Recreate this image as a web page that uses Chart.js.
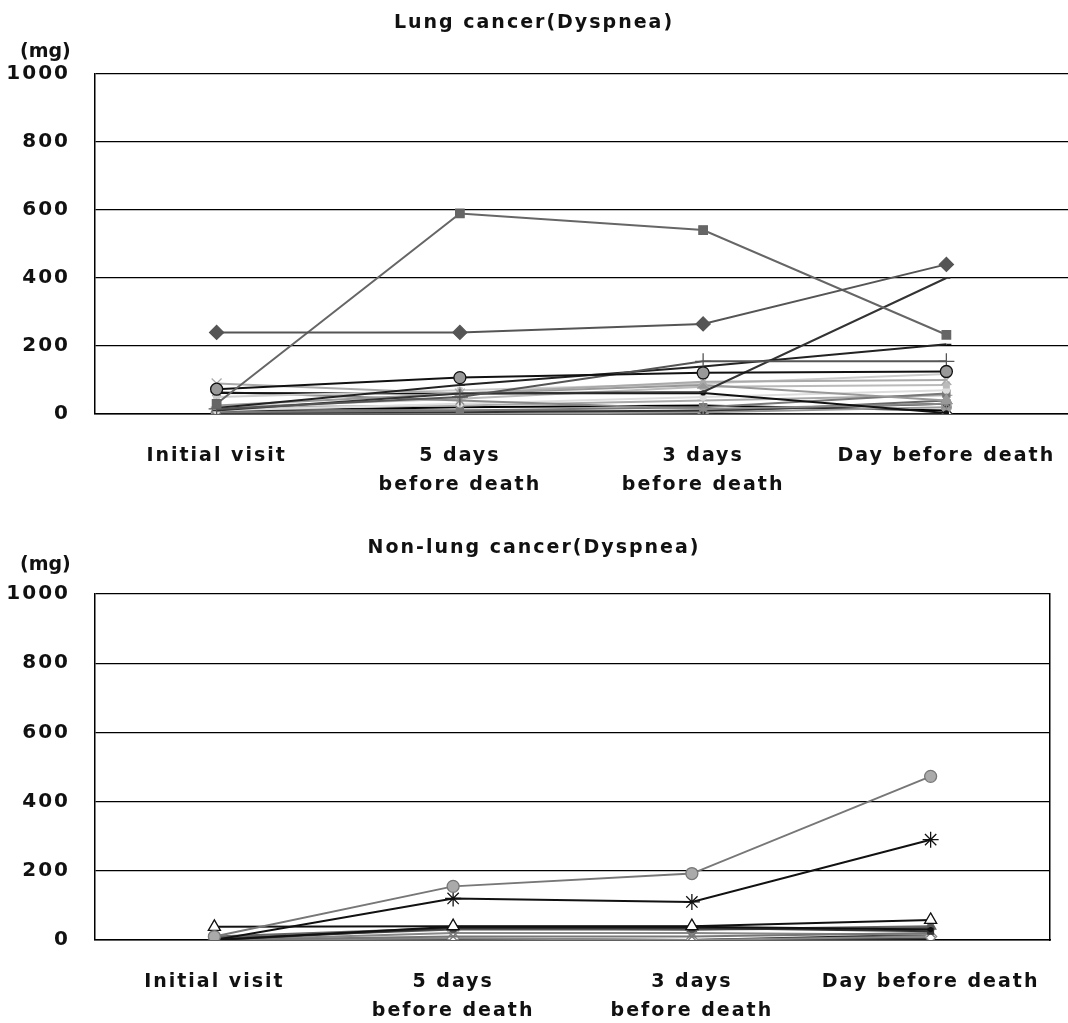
<!DOCTYPE html>
<html>
<head>
<meta charset="utf-8">
<script src="https://cdn.jsdelivr.net/npm/chart.js@4.4.0/dist/chart.umd.min.js"></script>
<style>
  body { margin: 0; background: #fff; }
  #wrap { position: relative; width: 1068px; height: 1023px; font-family: 'DejaVu Sans', sans-serif; color: #111; }
  .box { position: absolute; left: 0; width: 1068px; }
  .ttl { position: absolute; left: 0; width: 1068px; text-align: center; font-size: 19px; font-weight: bold; letter-spacing: 2px; }
  .mg { position: absolute; left: 20px; font-size: 19px; font-weight: bold; }
</style>
</head>
<body>
<div id="wrap">
  <div class="box" style="top:0;height:510px"><canvas id="myChart"></canvas></div>
  <div class="box" style="top:510px;height:513px"><canvas id="myChart2"></canvas></div>
  <div class="ttl" style="top:10px">Lung cancer(Dyspnea)</div>
  <div class="mg" style="top:39px">(mg)</div>
  <div class="ttl" style="top:535px">Non-lung cancer(Dyspnea)</div>
  <div class="mg" style="top:552px">(mg)</div>
</div>
<script>
const categories = ['Initial visit', ['5 days', 'before death'], ['3 days', 'before death'], 'Day before death'];
const yMin = 0;
const yMax = 1000;
const yStep = 200;

// lung cancer patients
const lungA = [240, 240, 265, 440];
const lungB = [30, 590, 541, 233];
const lungC = [73, 107, 121, 125];
const lungD = [15, 50, 155, 155];
const lungE = [18, 85, 140, 205];
const lungF = [10, 60, 65, 400];
const lungG = [90, 60, 95, 100];
const lungH = [25, 60, 85, 40];
const lungI = [50, 70, 90, 118];
const lungJ = [62, 60, 62, 3];
const lungK = [65, 40, 15, 30];
const lungL = [20, 45, 80, 85];
const lungM = [10, 30, 50, 70];
const lungN = [5, 10, 20, 60];
const lungO = [3, 5, 10, 30];
const lungP = [0, 0, 5, 20];
const lungQ = [0, 0, 0, 0];
const lungR = [15, 10, 5, 40];
const lungS = [20, 25, 40, 55];
const lungT = [8, 20, 25, 10];

// non-lung cancer patients
const nonA = [10, 155, 192, 473];
const nonB = [0, 120, 110, 290];
const nonC = [38, 40, 40, 58];
const nonD = [0, 38, 38, 30];
const nonE = [0, 35, 35, 25];
const nonF = [5, 30, 30, 35];
const nonG = [0, 10, 10, 20];
const nonH = [0, 5, 0, 10];
const nonI = [0, 20, 20, 15];
const nonJ = [0, 0, 0, 5];
const nonK = [10, 35, 30, 40];
const nonL = [0, 3, 0, 15];

function ds(data, line, style, fill, edge, r) {
    return {
        data: data,
        borderColor: line,
        backgroundColor: fill || line,
        pointBorderColor: edge || line,
        pointStyle: style,
        pointRadius: r || 5,
        pointBorderWidth: 1.3,
        borderWidth: 2,
        tension: 0
    }
}

const lungSets = [
    ds(lungA, '#555', 'rectRot', null, null, 7),
    ds(lungB, '#666', 'rect', null, null, 6),
    ds(lungC, '#111', 'circle', '#999', '#111', 6),
    ds(lungD, '#555', 'cross', null, null, 8),
    ds(lungE, '#222', 'dash', null, null, 5),
    ds(lungF, '#333', 'line', null, null, 4),
    ds(lungG, '#aaa', 'crossRot', null, null, 7),
    ds(lungH, '#999', 'triangle', null, null, 6),
    ds(lungI, '#ccc', 'circle', null, null, 3),
    ds(lungJ, '#111', 'circle', null, null, 2),
    ds(lungK, '#888', 'star', null, null, 6),
    ds(lungL, '#bbb', 'rect', null, null, 4),
    ds(lungM, '#ddd', 'circle', null, null, 3),
    ds(lungN, '#777', 'rect', null, null, 5),
    ds(lungO, '#333', 'circle', null, null, 3),
    ds(lungP, '#999', 'circle', null, null, 5),
    ds(lungQ, '#222', 'rectRot', '#fff', '#222', 6),
    ds(lungR, '#666', 'triangle', null, null, 6),
    ds(lungS, '#aaa', 'cross', null, null, 6),
    ds(lungT, '#000', 'circle', null, null, 2)
];

const nonSets = [
    ds(nonA, '#777', 'circle', '#aaa', '#777', 6),
    ds(nonB, '#111', 'star', null, null, 8),
    ds(nonC, '#111', 'triangle', '#fff', '#111', 7),
    ds(nonD, '#111', 'circle', null, null, 2),
    ds(nonE, '#333', 'rect', null, null, 4),
    ds(nonF, '#555', 'circle', null, null, 3),
    ds(nonG, '#777', 'crossRot', null, null, 6),
    ds(nonH, '#888', 'rectRot', '#fff', '#888', 6),
    ds(nonI, '#888', 'circle', null, null, 3),
    ds(nonJ, '#444', 'rect', null, null, 5),
    ds(nonK, '#666', 'triangle', null, null, 6),
    ds(nonL, '#222', 'circle', null, null, 2)
];

const spacing = {
    id: 'spacing',
    beforeDraw(chart) { chart.ctx.letterSpacing = '2px'; }
};

function opts(topPad, rightPad, xHeight, rightBorder) {
    const o = {
        responsive: true,
        maintainAspectRatio: false,
        animation: false,
        layout: { autoPadding: false, padding: { top: topPad, right: rightPad, left: 0, bottom: 0 } },
        plugins: { legend: { display: false }, tooltip: { enabled: false } },
        scales: {
            x: {
                offset: true,
                grid: { drawOnChartArea: false, drawTicks: false },
                border: { color: '#000', width: 1.5 },
                ticks: {
                    font: { family: 'DejaVu Sans', size: 19, weight: 'bold', lineHeight: 1.55 },
                    color: '#111',
                    maxRotation: 0,
                    autoSkip: false,
                    padding: 27
                },
                afterFit: s => { s.height = xHeight; s.paddingLeft = 0; s.paddingRight = 0; }
            },
            y: {
                min: yMin,
                max: yMax,
                grid: { color: '#000', lineWidth: 1.2, drawTicks: false },
                border: { color: '#000', width: 1.5 },
                ticks: {
                    stepSize: yStep,
                    font: { family: 'DejaVu Sans', size: 20, weight: 'bold' },
                    color: '#111',
                    padding: 25,
                    callback: v => String(v)
                },
                afterFit: s => { s.width = 95; }
            }
        }
    };
    if (rightBorder) {
        o.scales.y2 = {
            position: 'right',
            min: yMin,
            max: yMax,
            ticks: { display: false },
            grid: { drawOnChartArea: false, drawTicks: false },
            border: { color: '#000', width: 1.5 },
            afterFit: s => { s.width = 0; }
        };
    }
    return o;
}

new Chart(document.getElementById('myChart'), {
    type: 'line',
    data: { labels: categories, datasets: lungSets },
    options: opts(74, 0, 96, false),
    plugins: [spacing]
});

new Chart(document.getElementById('myChart2'), {
    type: 'line',
    data: { labels: categories, datasets: nonSets },
    options: opts(84, 18, 83, true),
    plugins: [spacing]
});
</script>
</body>
</html>
